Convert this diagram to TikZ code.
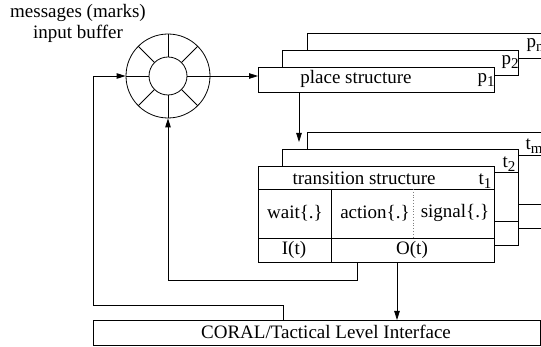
\documentclass[tikz,border=0pt]{standalone}
\usepackage{fontspec}
\setmainfont{Liberation Serif}
\usetikzlibrary{arrows.meta}
\newcommand\lowsub[1]{\raisebox{-0.45ex}{\fontsize{15}{15}\selectfont #1}}

\begin{document}
\begin{tikzpicture}[x=1pt,y=-1pt,line width=0.8pt,
  every node/.style={font=\fontsize{19}{22}\selectfont,inner sep=0pt},
  box/.style={draw,fill=white,rectangle,anchor=north west,minimum width=236pt},
  pbox/.style={box,minimum height=25pt},
  tbox/.style={box,minimum height=96pt},
  arr/.style={-{Triangle[length=9pt,width=5.5pt]}},
  sep/.style={dotted,gray}]
\useasboundingbox (0,0) rectangle (541,347);

% input buffer ring
\node (cap1) at (78,13) {messages (marks)};
\node (cap2) at (78,34) {input buffer};
\node[circle,draw,minimum size=84pt] (buf) at (168,76) {};
\node[circle,draw,minimum size=38pt] (bufin) at (168,76) {};
\foreach \a in {0,45,...,315} \draw (bufin.\a) -- (buf.\a);

% stacked place structures
\node[pbox] (pn) at (307,33) {};
\node[pbox] (p2) at (282,50) {};
\node[pbox] (p1) at (258,67) {};
\node (ptxt) at (356,79) {place structure};
\node (p1l) at (486,80) {p\lowsub{1}};
\node (p2l) at (510,62) {p\lowsub{2}};
\node (pnl) at (535,45) {p\lowsub{n}};

% stacked transition structures
\node[tbox] (tm) at (307,132) {};
\draw ([yshift=-23pt]tm.north west) -- ([yshift=-23pt]tm.north east);
\draw ([yshift=-72pt]tm.north west) -- ([yshift=-72pt]tm.north east);
\node[tbox] (t2) at (282,149) {};
\draw ([yshift=-23pt]t2.north west) -- ([yshift=-23pt]t2.north east);
\draw ([yshift=-72pt]t2.north west) -- ([yshift=-72pt]t2.north east);
\node[tbox] (t1) at (258,166) {};
\draw ([yshift=-23pt]t1.north west) -- ([yshift=-23pt]t1.north east);
\draw ([yshift=-72pt]t1.north west) -- ([yshift=-72pt]t1.north east);
\coordinate (dv) at (331,189);
\draw (dv) -- (dv |- t1.south);
\coordinate (ds) at (413,189);
\coordinate (de) at (413,238);
\draw[sep] (ds) -- (de);

\node (ttxt) at (364,178) {transition structure};
\node (t1l) at (485,181) {t\lowsub{1}};
\node (t2l) at (509,164) {t\lowsub{2}};
\node (tml) at (534,146) {t\lowsub{m}};
\node (wait) at (295,213) {wait\{.\}};
\node (act) at (375,213) {action\{.\}};
\node (sig) at (455,213) {signal\{.\}};
\node (it) at (294,250) {I(t)};
\node (ot) at (412,250) {O(t)};

% interface bar
\node[box,minimum width=447pt,minimum height=25pt] (coral) at (93,320) {};
\node (ctxt) at (326,332) {CORAL/Tactical Level Interface};

% connectors
\draw[arr] (buf.east) -- (p1.west |- buf.east);
\coordinate (tin) at (299,142);
\draw[arr] (p1.south -| tin) -- (tin);
\coordinate (lo1) at (283,305);
\coordinate (lo2) at (93,305);
\draw[arr] (coral.north -| lo1) -- (lo1) -- (lo2) |- (buf.west);
\coordinate (li) at (357,280);
\draw[arr] (t1.south -| li) -- (li) -| (buf.south);
\coordinate (od) at (397,290);
\draw[arr] (t1.south -| od) -- (coral.north -| od);
\end{tikzpicture}
\end{document}
